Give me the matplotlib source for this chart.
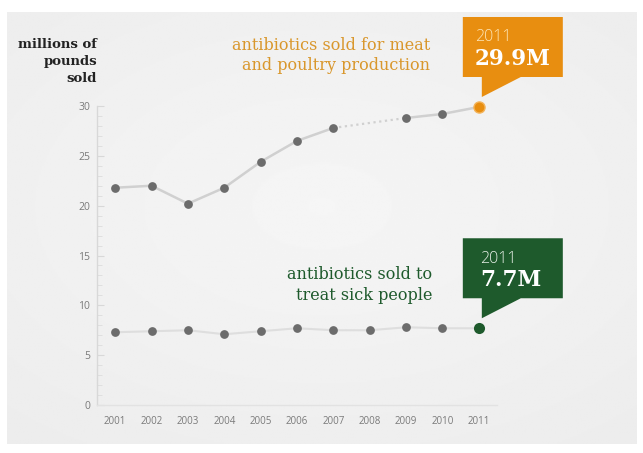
import numpy as np
import matplotlib
matplotlib.use("Agg")
import matplotlib.pyplot as plt
import matplotlib.transforms as mtransforms
from matplotlib.patches import Polygon

# data (millions of pounds sold)
years = [2001, 2002, 2003, 2004, 2005, 2006, 2007, 2008, 2009, 2010, 2011]
meat = [21.8, 22.0, 20.2, 21.8, 24.4, 26.5, 27.8, np.nan, 28.8, 29.2, 29.9]
human = [7.3, 7.4, 7.5, 7.1, 7.4, 7.7, 7.5, 7.5, 7.8, 7.7, 7.7]
y_ticks = [0, 5, 10, 15, 20, 25, 30]

meat_title = ["antibiotics sold for meat", "and poultry production"]
human_title = ["antibiotics sold to", "treat sick people"]
unit_label = ["millions of", "pounds", "sold"]

ORANGE = "#e88e10"
ORANGE_TXT = "#d9972c"
GREEN = "#1e5a2c"
DOT = "#6c6c6c"
LINE = "#d0d0d0"
SLAB = ["DejaVu Serif"]
SANS = ["Open Sans", "DejaVu Sans"]

W, H = 643, 453
fig = plt.figure(figsize=(W / 100, H / 100), dpi=100)
fig.patch.set_facecolor("white")


def fx(px):
    return px / W


def fy(py):
    return 1 - py / H


# soft grey panel behind everything
bg = fig.add_axes([fx(7), fy(444), fx(637) - fx(7), fy(12) - fy(444)], zorder=-5)
gx, gy = np.meshgrid(np.linspace(-1, 1, 400), np.linspace(-1, 1, 280))
r = np.sqrt((gx * 0.9) ** 2 + (gy + 0.1) ** 2)
bg.imshow(0.962 - 0.035 * np.clip(r, 0, 1.4) / 1.4, cmap="gray", vmin=0, vmax=1,
          aspect="auto", extent=[0, 1, 0, 1], interpolation="bilinear")
bg.axis("off")

ax = fig.add_axes([fx(97), fy(405), fx(497) - fx(97), fy(106) - fy(405)])
ax.patch.set_alpha(0)
ax.set_xlim(2000.5, 2011.5)
ax.set_ylim(0, 30)

yrs = np.array(years)
meat_a = np.array(meat)
human_a = np.array(human)

# meat series: solid where data exists, dotted over the missing year
ax.plot(yrs, meat_a, color=LINE, lw=1.8, zorder=2, solid_capstyle="round", clip_on=False)
gap = np.where(np.isnan(meat_a))[0]
for g in gap:
    ax.plot([yrs[g - 1], yrs[g + 1]], [meat_a[g - 1], meat_a[g + 1]], color=LINE,
            lw=1.6, ls=(0, (1, 1.6)), zorder=2, clip_on=False)
ax.plot(yrs[:-1], meat_a[:-1], "o", color=DOT, ms=6.3, mec="none", zorder=3, clip_on=False)
ax.plot(yrs[-1], meat_a[-1], "o", color=ORANGE, ms=8, mec="#f3b45c", mew=1, zorder=4, clip_on=False)

ax.plot(yrs, human_a, color="#dedede", lw=1.5, zorder=2, clip_on=False)
ax.plot(yrs[:-1], human_a[:-1], "o", color=DOT, ms=6.3, mec="none", zorder=3, clip_on=False)
ax.plot(yrs[-1], human_a[-1], "o", color=GREEN, ms=8, mec="none", zorder=4, clip_on=False)

# axes styling
for s in ["top", "right"]:
    ax.spines[s].set_visible(False)
ax.spines["left"].set_color("#d8d8d8")
ax.spines["bottom"].set_color("#e2e2e2")
ax.spines["left"].set_linewidth(1)
ax.spines["bottom"].set_linewidth(1)
ax.set_yticks(y_ticks)
ax.set_yticks(np.arange(0, 31, 1), minor=True)
ax.tick_params(axis="y", which="major", direction="in", length=5, color="#d8d8d8",
               labelsize=7.5, labelcolor="#7a7a7a", pad=5)
ax.tick_params(axis="y", which="minor", direction="in", length=3.5, color="#dcdcdc")
ax.set_xticks(years)
ax.tick_params(axis="x", length=0, labelsize=7, labelcolor="#7a7a7a", pad=8)
for lab in ax.get_xticklabels() + ax.get_yticklabels():
    lab.set_family(SANS)


# callout boxes anchored to the 2011 points (offsets in pixels)
def callout(x, y, color, top_txt, val_txt, top_color, tx):
    base = fig.dpi_scale_trans + mtransforms.ScaledTranslation(x, y, ax.transData)
    verts = np.array([(-16, 90), (84, 90), (84, 30), (42, 30), (3, 10), (3, 30), (-16, 30)]) / 100
    ax.add_patch(Polygon(verts, closed=True, transform=base, facecolor=color,
                         edgecolor="none", zorder=5, clip_on=False))
    ax.text(tx / 100, 0.655, top_txt, transform=base, color=top_color, fontsize=11.5,
            family=SANS, fontweight="light", va="baseline", ha="left", zorder=6)
    ax.text(tx / 100, 0.42, val_txt, transform=base, color="white", fontsize=15.5,
            family=SLAB, fontweight="bold", va="baseline", ha="left", zorder=6)


callout(years[-1], meat[-1], ORANGE, "2011", "%.1fM" % meat[-1], "#fde6b8", -4)
callout(years[-1], human[-1], GREEN, "2011", "%.1fM" % human[-1], "#e8f0e8", 1)

# titles
for i, line in enumerate(meat_title):
    fig.text(fx(430), fy(50 + 20 * i), line, color=ORANGE_TXT, fontsize=11.5,
             family=SLAB, ha="right", va="baseline")
for i, line in enumerate(human_title):
    fig.text(fx(432), fy(279 + 21 * i), line, color=GREEN, fontsize=11.5,
             family=SLAB, ha="right", va="baseline")
for i, line in enumerate(unit_label):
    fig.text(fx(97), fy(48 + 17 * i), line, color="#222222", fontsize=9.5,
             family=SLAB, fontweight="bold", ha="right", va="baseline")

fig.savefig("out.png", dpi=100)
